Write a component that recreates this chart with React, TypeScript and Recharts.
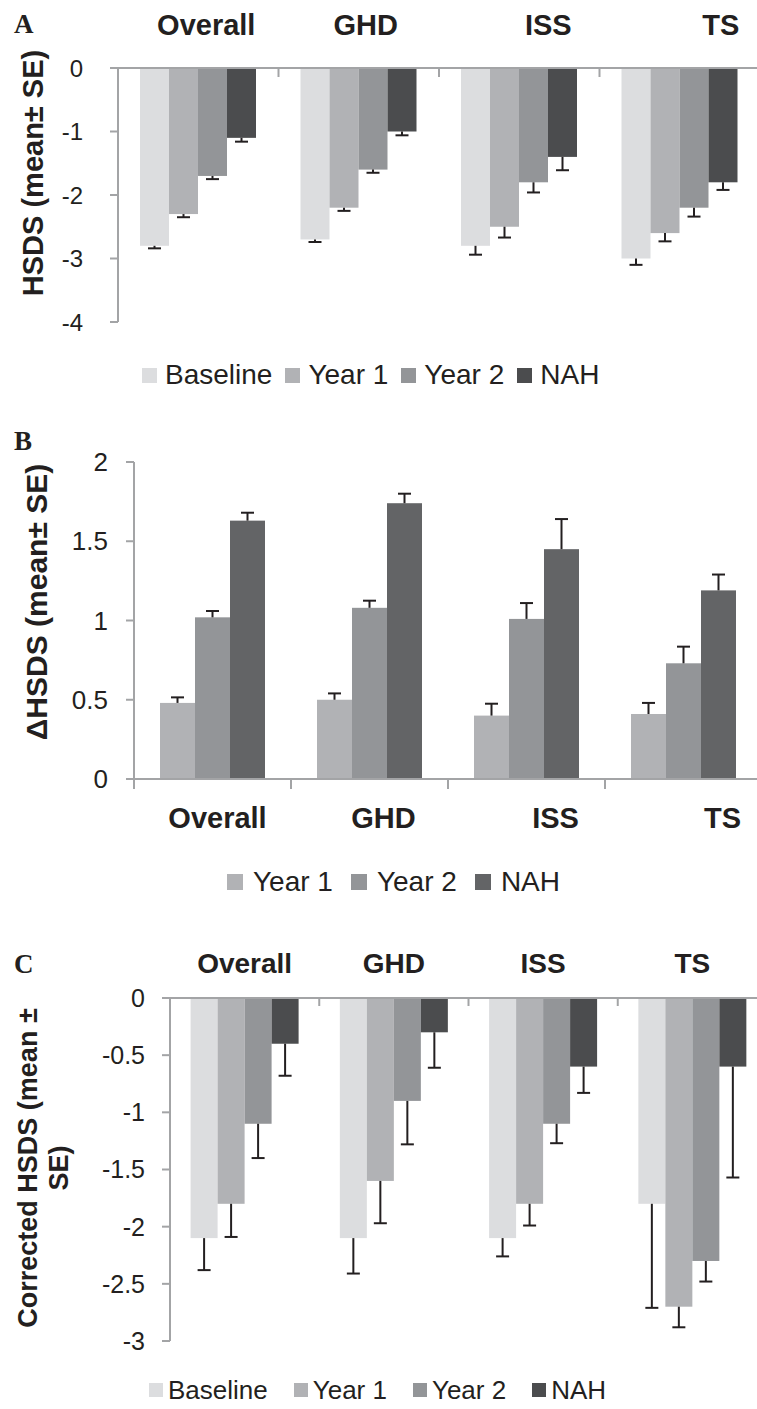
import React from "react";
import { BarChart, Bar, XAxis, YAxis } from "recharts";

const categories = ["Overall", "GHD", "ISS", "TS"];

// Panel A: HSDS (mean ± SE)
const baselineA = [-2.8, -2.7, -2.8, -3.0];
const baselineSeA = [0.04, 0.04, 0.14, 0.1];
const year1A = [-2.3, -2.2, -2.5, -2.6];
const year1SeA = [0.05, 0.05, 0.17, 0.13];
const year2A = [-1.7, -1.6, -1.8, -2.2];
const year2SeA = [0.05, 0.05, 0.16, 0.14];
const nahA = [-1.1, -1.0, -1.4, -1.8];
const nahSeA = [0.06, 0.06, 0.21, 0.12];
const ticksA = [-4, -3, -2, -1, 0];

// Panel B: delta HSDS
const year1B = [0.48, 0.5, 0.4, 0.41];
const year1SeB = [0.035, 0.04, 0.075, 0.07];
const year2B = [1.02, 1.08, 1.01, 0.73];
const year2SeB = [0.04, 0.045, 0.1, 0.105];
const nahB = [1.63, 1.74, 1.45, 1.19];
const nahSeB = [0.05, 0.06, 0.19, 0.1];
const ticksB = [0, 0.5, 1, 1.5, 2];

// Panel C: corrected HSDS
const baselineC = [-2.1, -2.1, -2.1, -1.8];
const baselineSeC = [0.28, 0.31, 0.16, 0.91];
const year1C = [-1.8, -1.6, -1.8, -2.7];
const year1SeC = [0.29, 0.37, 0.19, 0.18];
const year2C = [-1.1, -0.9, -1.1, -2.3];
const year2SeC = [0.3, 0.38, 0.17, 0.18];
const nahC = [-0.4, -0.3, -0.6, -0.6];
const nahSeC = [0.28, 0.31, 0.23, 0.97];
const ticksC = [-3, -2.5, -2, -1.5, -1, -0.5, 0];

const FONT = '"Liberation Sans", Arial, Helvetica, sans-serif';
const SERIF = '"Liberation Serif", "Times New Roman", serif';
const INK = "#231f20";
const AXIS = "#a3a4a6";

const COL_BASE = "#dcdddf";
const COL_Y1 = "#b1b2b5";
const COL_Y2 = "#939598";
const COL_NAH = "#4b4c4e";
const COL_NAH_B = "#636466";

const rowsA = categories.map((cat, i) => ({
  cat,
  base: baselineA[i],
  baseSe: baselineSeA[i],
  y1: year1A[i],
  y1Se: year1SeA[i],
  y2: year2A[i],
  y2Se: year2SeA[i],
  nah: nahA[i],
  nahSe: nahSeA[i],
}));

const rowsB = categories.map((cat, i) => ({
  cat,
  y1: year1B[i],
  y1Se: year1SeB[i],
  y2: year2B[i],
  y2Se: year2SeB[i],
  nah: nahB[i],
  nahSe: nahSeB[i],
}));

const rowsC = categories.map((cat, i) => ({
  cat,
  base: baselineC[i],
  baseSe: baselineSeC[i],
  y1: year1C[i],
  y1Se: year1SeC[i],
  y2: year2C[i],
  y2Se: year2SeC[i],
  nah: nahC[i],
  nahSe: nahSeC[i],
}));

// bar + one-sided SE whisker pointing away from zero
const ErrBar = (props: any) => {
  const { x, y, width, height, fill, payload, valueKey, seKey } = props;
  const v = payload[valueKey];
  const se = payload[seKey];
  const top = Math.min(y, y + height);
  const h = Math.abs(height);
  const ppu = v !== 0 ? h / Math.abs(v) : 0;
  const cx = x + width / 2;
  const start = v < 0 ? top + h : top;
  const end = v < 0 ? start + se * ppu : start - se * ppu;
  return (
    <g>
      <rect x={x} y={top} width={width} height={h} fill={fill} />
      <line x1={cx} x2={cx} y1={start} y2={end} stroke={INK} strokeWidth={2} />
      <line x1={cx - 6.5} x2={cx + 6.5} y1={end} y2={end} stroke={INK} strokeWidth={2} />
    </g>
  );
};

const shapeFor = (valueKey: string, seKey: string) => (p: any) =>
  <ErrBar {...p} valueKey={valueKey} seKey={seKey} />;

const CatTick = (props: any) => {
  const { x, payload, index, labelY, shifts, band, t1, t2, fontSize } = props;
  const bx = x - band / 2;
  return (
    <g>
      <line x1={bx} x2={bx} y1={t1} y2={t2} stroke={AXIS} strokeWidth={2} />
      <text
        x={x + shifts[index]}
        y={labelY}
        textAnchor="middle"
        fontFamily={FONT}
        fontWeight="bold"
        fontSize={fontSize}
        fill={INK}
      >
        {payload.value}
      </text>
    </g>
  );
};

const LegendRow = ({ items, top, left, fontSize, sq, gap, sqGap, lh }: any) => (
  <div
    style={{
      position: "absolute",
      top,
      left,
      display: "flex",
      alignItems: "center",
      fontFamily: FONT,
      fontSize,
      lineHeight: `${lh}px`,
      color: INK,
      whiteSpace: "nowrap",
    }}
  >
    {items.map((it: any) => (
      <span key={it.label} style={{ display: "flex", alignItems: "center", marginRight: gap }}>
        <span style={{ width: sq, height: sq, background: it.color, marginRight: sqGap, display: "inline-block" }} />
        {it.label}
      </span>
    ))}
  </div>
);

const YTitle = ({ cx, cy, fontSize, lh, children }: any) => (
  <div
    style={{
      position: "absolute",
      left: cx,
      top: cy,
      transform: "translate(-50%, -50%) rotate(-90deg)",
      whiteSpace: "nowrap",
      fontFamily: FONT,
      fontWeight: 700,
      fontSize,
      lineHeight: `${lh}px`,
      textAlign: "center",
      color: INK,
    }}
  >
    {children}
  </div>
);

const PanelLetter = ({ top, children }: any) => (
  <div
    style={{
      position: "absolute",
      left: 14,
      top,
      fontFamily: SERIF,
      fontWeight: 700,
      fontSize: 27,
      lineHeight: "27px",
      color: INK,
    }}
  >
    {children}
  </div>
);

const yTick = (size: number) => ({ fontSize: size, fill: INK, fontFamily: FONT });

export default function App() {
  const legend4 = [
    { label: "Baseline", color: COL_BASE },
    { label: "Year 1", color: COL_Y1 },
    { label: "Year 2", color: COL_Y2 },
    { label: "NAH", color: COL_NAH },
  ];
  const legend3 = [
    { label: "Year 1", color: COL_Y1 },
    { label: "Year 2", color: COL_Y2 },
    { label: "NAH", color: COL_NAH_B },
  ];

  return (
    <div
      style={{
        position: "absolute",
        left: 0,
        top: 0,
        width: 757,
        height: 1409,
        overflow: "hidden",
        background: "#fff",
      }}
    >
      {/* Panel A */}
      <div style={{ position: "absolute", left: 0, top: 0 }}>
        <BarChart
          width={770}
          height={340}
          data={rowsA}
          margin={{ top: 0, right: 10, bottom: 18, left: 0 }}
          barCategoryGap={22}
          barGap={0}
        >
          <XAxis
            dataKey="cat"
            orientation="top"
            height={68}
            interval={0}
            axisLine={{ stroke: AXIS, strokeWidth: 2 }}
            tickLine={false}
            tick={(p: any) => (
              <CatTick {...p} labelY={35} shifts={[8, 7, 29, 41]} band={160.5} t1={68} t2={77} fontSize={29} />
            )}
          />
          <YAxis
            type="number"
            domain={[-4, 0]}
            ticks={ticksA}
            width={118}
            interval={0}
            tickSize={8}
            tickMargin={27}
            axisLine={{ stroke: AXIS, strokeWidth: 2 }}
            tickLine={{ stroke: AXIS, strokeWidth: 2 }}
            tick={yTick(24)}
          />
          <Bar dataKey="base" fill={COL_BASE} isAnimationActive={false} shape={shapeFor("base", "baseSe")} />
          <Bar dataKey="y1" fill={COL_Y1} isAnimationActive={false} shape={shapeFor("y1", "y1Se")} />
          <Bar dataKey="y2" fill={COL_Y2} isAnimationActive={false} shape={shapeFor("y2", "y2Se")} />
          <Bar dataKey="nah" fill={COL_NAH} isAnimationActive={false} shape={shapeFor("nah", "nahSe")} />
        </BarChart>
      </div>
      <PanelLetter top={11}>A</PanelLetter>
      <YTitle cx={33} cy={173} fontSize={29} lh={32}>
        HSDS (mean± SE)
      </YTitle>
      <LegendRow items={legend4} top={359} left={142} fontSize={28} sq={15} gap={13} sqGap={8} lh={32} />

      {/* Panel B */}
      <div style={{ position: "absolute", left: 0, top: 420 }}>
        <BarChart
          width={770}
          height={420}
          data={rowsB}
          margin={{ top: 42, right: 8, bottom: 0, left: 0 }}
          barCategoryGap={26}
          barGap={0}
        >
          <XAxis
            dataKey="cat"
            height={61}
            interval={0}
            axisLine={{ stroke: AXIS, strokeWidth: 2 }}
            tickLine={false}
            tick={(p: any) => (
              <CatTick {...p} labelY={408} shifts={[5, 14, 29, 39]} band={157} t1={359} t2={369} fontSize={29} />
            )}
          />
          <YAxis
            type="number"
            domain={[0, 2]}
            ticks={ticksB}
            width={134}
            interval={0}
            tickSize={8}
            tickMargin={18}
            axisLine={{ stroke: AXIS, strokeWidth: 2 }}
            tickLine={{ stroke: AXIS, strokeWidth: 2 }}
            tick={yTick(26)}
          />
          <Bar dataKey="y1" fill={COL_Y1} isAnimationActive={false} shape={shapeFor("y1", "y1Se")} />
          <Bar dataKey="y2" fill={COL_Y2} isAnimationActive={false} shape={shapeFor("y2", "y2Se")} />
          <Bar dataKey="nah" fill={COL_NAH_B} isAnimationActive={false} shape={shapeFor("nah", "nahSe")} />
        </BarChart>
      </div>
      <PanelLetter top={428}>B</PanelLetter>
      <YTitle cx={36} cy={602} fontSize={30} lh={33}>
        ΔHSDS (mean± SE)
      </YTitle>
      <LegendRow items={legend3} top={866} left={227} fontSize={28} sq={16} gap={18} sqGap={10} lh={32} />

      {/* Panel C */}
      <div style={{ position: "absolute", left: 0, top: 920 }}>
        <BarChart
          width={775}
          height={440}
          data={rowsC}
          margin={{ top: 0, right: 8, bottom: 19, left: 0 }}
          barCategoryGap={20.6}
          barGap={0}
        >
          <XAxis
            dataKey="cat"
            orientation="top"
            height={78}
            interval={0}
            axisLine={{ stroke: AXIS, strokeWidth: 2 }}
            tickLine={false}
            tick={(p: any) => (
              <CatTick {...p} labelY={53} shifts={[0, 0, 0, 0]} band={149.25} t1={78} t2={86} fontSize={28} />
            )}
          />
          <YAxis
            type="number"
            domain={[-3, 0]}
            ticks={ticksC}
            width={170}
            interval={0}
            tickSize={8}
            tickMargin={17}
            axisLine={{ stroke: AXIS, strokeWidth: 2 }}
            tickLine={{ stroke: AXIS, strokeWidth: 2 }}
            tick={yTick(25)}
          />
          <Bar dataKey="base" fill={COL_BASE} isAnimationActive={false} shape={shapeFor("base", "baseSe")} />
          <Bar dataKey="y1" fill={COL_Y1} isAnimationActive={false} shape={shapeFor("y1", "y1Se")} />
          <Bar dataKey="y2" fill={COL_Y2} isAnimationActive={false} shape={shapeFor("y2", "y2Se")} />
          <Bar dataKey="nah" fill={COL_NAH} isAnimationActive={false} shape={shapeFor("nah", "nahSe")} />
        </BarChart>
      </div>
      <PanelLetter top={951}>C</PanelLetter>
      <YTitle cx={44} cy={1168} fontSize={27} lh={31}>
        Corrected HSDS (mean ±
        <br />
        SE)
      </YTitle>
      <LegendRow items={legend4} top={1376} left={149} fontSize={26} sq={14} gap={26} sqGap={5} lh={28} />
    </div>
  );
}
